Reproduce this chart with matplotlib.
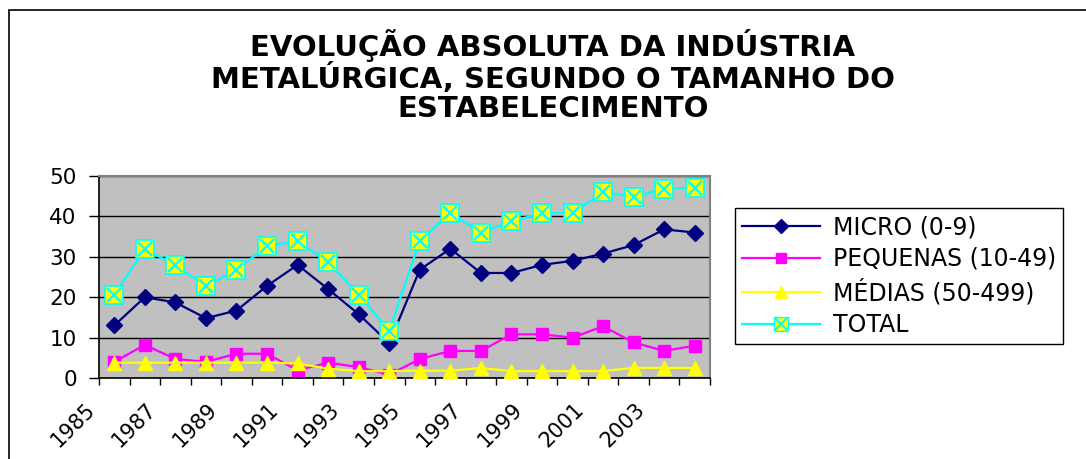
import matplotlib
matplotlib.use("Agg")
import matplotlib.pyplot as plt
import numpy as np
from matplotlib.legend_handler import HandlerTuple
from matplotlib.patches import Rectangle

plt.rcParams['font.family'] = ['DejaVu Sans']

years = list(range(1985, 2005))
micro = [13, 20, 18.7, 14.8, 16.7, 22.8, 28, 22, 15.8, 8.6,
         26.8, 32, 26, 26, 28, 29, 30.8, 32.9, 36.8, 36]
pequenas = [4, 8.2, 4.7, 4, 6, 6, 1.9, 3.8, 2.7, 0.8,
            4.7, 6.7, 6.7, 10.8, 10.8, 10, 12.8, 8.8, 6.7, 8]
medias = [3.8, 3.8, 3.8, 3.8, 3.8, 3.8, 3.6, 2.3, 1.7, 1.7,
          1.8, 1.8, 2.5, 1.7, 1.7, 1.7, 1.7, 2.5, 2.5, 2.5]
total = [20.6, 32, 27.9, 22.8, 26.7, 32.7, 33.9, 28.7, 20.6, 11.7,
         34, 40.8, 36, 38.8, 40.8, 40.8, 46, 44.8, 46.9, 47]
tick_labels = [str(y) if (y - 1985) % 2 == 0 else '' for y in years] + ['']
title = "EVOLUÇÃO ABSOLUTA DA INDÚSTRIA\nMETALÚRGICA, SEGUNDO O TAMANHO DO\nESTABELECIMENTO"

fig = plt.figure(figsize=(10.86, 4.59), dpi=100)
fig.patches.append(Rectangle((9/1086, -0.1), 1.2, 1 - 10/459 + 0.1, transform=fig.transFigure,
                             fill=False, edgecolor='black', linewidth=1.2))
ax = fig.add_axes([99/1086, 1 - 378/459, (710 - 99)/1086, (378 - 176)/459])
ax.set_facecolor('#C0C0C0')

x = np.arange(len(years))
h1, = ax.plot(x, micro, color='#000080', lw=1.6, marker='D', ms=8.5, mfc='#000080', mec='#000080',
              label='MICRO (0-9)', zorder=4)
h2, = ax.plot(x, pequenas, color='#FF00FF', lw=1.6, marker='s', ms=8.5, mfc='#FF00FF', mec='#FF00FF',
              label='PEQUENAS (10-49)', zorder=3)
h3, = ax.plot(x, medias, color='#FFFF00', lw=1.6, marker='^', ms=10, mfc='#FFFF00', mec='#FFFF00',
              label='MÉDIAS (50-499)', zorder=3.5)
h4, = ax.plot(x, total, color='#00FFFF', lw=1.6, marker='s', ms=13, mfc='#FFFF00', mec='#00FFFF',
              mew=1.2, zorder=5)
h5, = ax.plot(x, total, ls='none', marker='x', ms=10, mec='#00FFFF', mew=1.6, zorder=6)

ax.set_xlim(-0.5, len(years) - 0.5)
ax.set_ylim(0, 50)
ax.set_yticks([0, 10, 20, 30, 40, 50])
ax.set_xticks(np.arange(-0.5, len(years), 1.0))
ax.set_xticklabels(tick_labels, rotation=45, ha='right', va='top', fontsize=15)
ax.tick_params(axis='y', labelsize=15.5, length=7, width=1, direction='out', pad=9)
ax.tick_params(axis='x', length=5, width=1, direction='out', pad=10)
ax.yaxis.grid(True, color='black', lw=1)
ax.set_axisbelow(True)
for s in ['left', 'bottom']:
    ax.spines[s].set_color('black')
    ax.spines[s].set_linewidth(1.2)
for s in ['top', 'right']:
    ax.spines[s].set_color('#808080')
    ax.spines[s].set_linewidth(1.5)

fig.text(553/1086, 1 - 76/459, title, ha='center', va='center', fontsize=21, fontweight='bold',
         linespacing=1.05)

sm = [plt.Line2D([], [], color='#000080', lw=1.6, marker='D', ms=7, mfc='#000080', mec='#000080'),
      plt.Line2D([], [], color='#FF00FF', lw=1.6, marker='s', ms=7, mfc='#FF00FF', mec='#FF00FF'),
      plt.Line2D([], [], color='#FFFF00', lw=1.6, marker='^', ms=8, mfc='#FFFF00', mec='#FFFF00'),
      (plt.Line2D([], [], color='#00FFFF', lw=1.6, marker='s', ms=10, mfc='#FFFF00', mec='#00FFFF'),
       plt.Line2D([], [], ls='none', marker='x', ms=8, mec='#00FFFF', mew=1.4))]
leg = fig.legend(handles=sm, labels=['MICRO (0-9)', 'PEQUENAS (10-49)', 'MÉDIAS (50-499)', 'TOTAL'],
                 handler_map={tuple: HandlerTuple(ndivide=1)},
                 loc='upper left', bbox_to_anchor=(735/1086, 1 - 208/459), borderaxespad=0,
                 fontsize=17, frameon=True, fancybox=False, edgecolor='black', framealpha=1,
                 handlelength=3.3, labelspacing=0.33, handletextpad=0.55, borderpad=0.3)
leg.get_frame().set_linewidth(1.0)

fig.savefig('out.png', dpi=100)
